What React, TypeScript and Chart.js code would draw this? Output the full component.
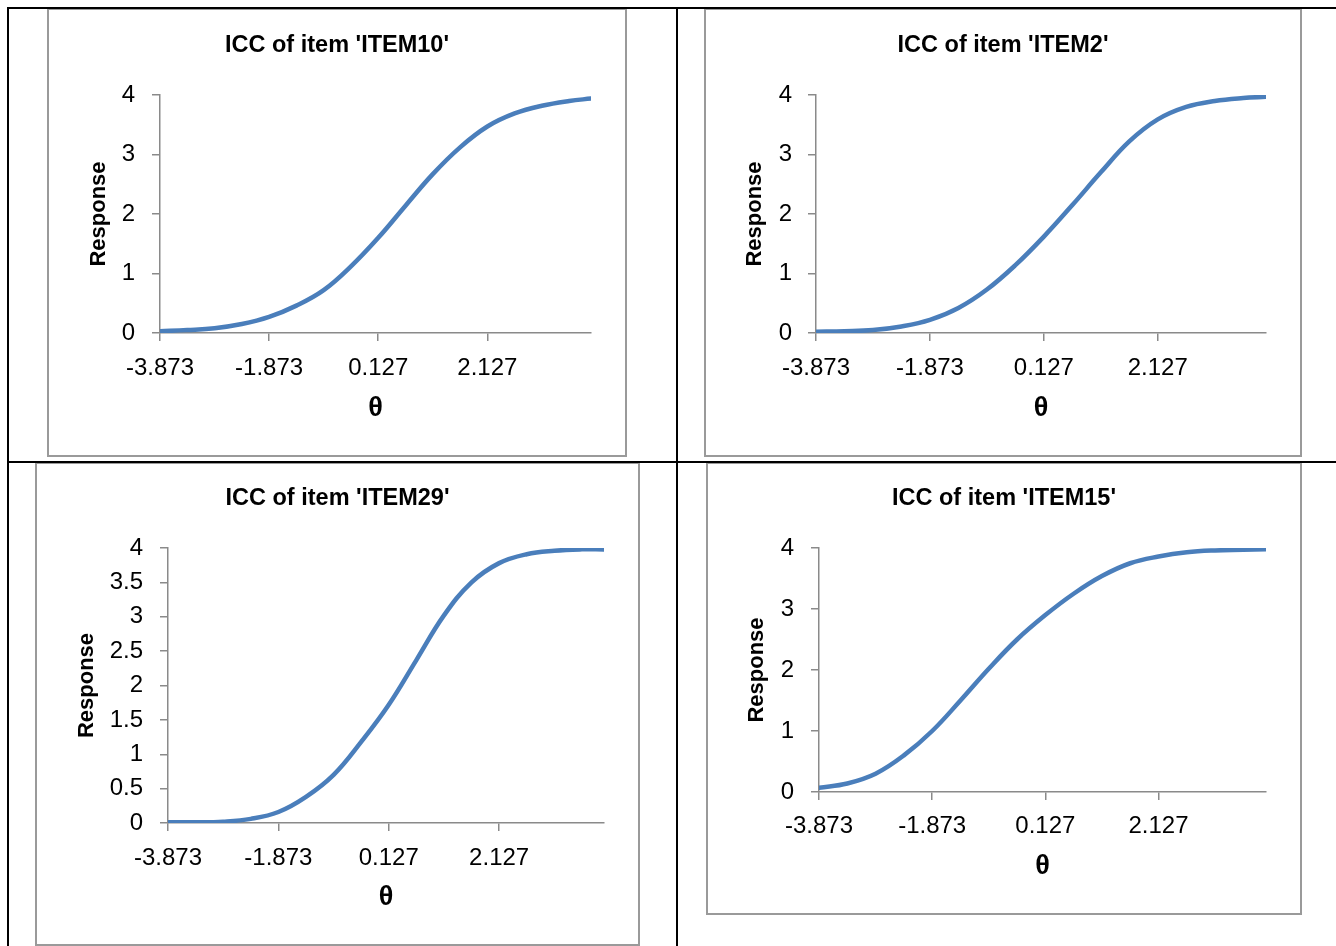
import React, { useEffect, useRef } from "react";
import { Chart, registerables } from "chart.js";

Chart.register(...registerables);

// ---------- data ----------
const thetaValues = [
  -3.873, -3.373, -2.873, -2.373, -1.873, -1.373, -0.873, -0.373, 0.127, 0.627,
  1.127, 1.627, 2.127, 2.627, 3.127, 3.627, 4.027,
];

const item10Values = [
  0.03, 0.05, 0.08, 0.15, 0.27, 0.46, 0.72, 1.12, 1.6, 2.14, 2.67, 3.12, 3.47, 3.69, 3.82, 3.9, 3.94,
];
const item2Values = [
  0.02, 0.03, 0.05, 0.11, 0.22, 0.42, 0.73, 1.14, 1.62, 2.15, 2.7, 3.22, 3.59, 3.8, 3.9, 3.95, 3.97,
];
const item29Values = [
  0.01, 0.01, 0.02, 0.06, 0.16, 0.38, 0.7, 1.18, 1.72, 2.37, 3.02, 3.5, 3.78, 3.91, 3.96, 3.98, 3.98,
];
const item15Values = [
  0.07, 0.14, 0.3, 0.6, 1.0, 1.5, 2.02, 2.5, 2.9, 3.25, 3.54, 3.75, 3.86, 3.93, 3.96, 3.97, 3.98,
];

const xTickValues = [-3.873, -1.873, 0.127, 2.127];
const yTicksWhole = [0, 1, 2, 3, 4];
const yTicksHalf = [0, 0.5, 1, 1.5, 2, 2.5, 3, 3.5, 4];

const chartTitles = [
  "ICC of item 'ITEM10'",
  "ICC of item 'ITEM2'",
  "ICC of item 'ITEM29'",
  "ICC of item 'ITEM15'",
];
const xAxisTitle = "θ";
const yAxisTitle = "Response";

// ---------- layout ----------
type Layout = {
  box: { x: number; y: number; w: number; h: number };
  plot: { l: number; r: number; t: number; b: number };
  titleY: number;
  xLabelY: number;
  xTitleY: number;
  yTitleX: number;
  yLabelRight: number;
};

const layouts: Layout[] = [
  {
    box: { x: 47, y: 8, w: 580, h: 449 },
    plot: { l: 160, r: 591, t: 95, b: 333 },
    titleY: 46, xLabelY: 368, xTitleY: 408.5, yTitleX: 98.5, yLabelRight: 135,
  },
  {
    box: { x: 704, y: 8, w: 598, h: 449 },
    plot: { l: 816, r: 1266, t: 95, b: 333 },
    titleY: 46, xLabelY: 368, xTitleY: 408.5, yTitleX: 755, yLabelRight: 792,
  },
  {
    box: { x: 35, y: 462, w: 605, h: 484 },
    plot: { l: 168, r: 604, t: 548, b: 823 },
    titleY: 499, xLabelY: 858, xTitleY: 898, yTitleX: 86.5, yLabelRight: 143,
  },
  {
    box: { x: 706, y: 462, w: 596, h: 453 },
    plot: { l: 819, r: 1266, t: 548, b: 792 },
    titleY: 499, xLabelY: 826.5, xTitleY: 866.5, yTitleX: 757, yLabelRight: 794,
  },
];

const panelSeries = [item10Values, item2Values, item29Values, item15Values];
const panelYTicks = [yTicksWhole, yTicksWhole, yTicksHalf, yTicksWhole];

const BORDER = 2;
const TICK_LEN = 8;
const TITLE_SIZE = 23.5;
const TICK_SIZE = 24;
const Y_TITLE_SIZE = 22;
const X_TITLE_SIZE = 27;
const LH = 1.2;
const FONT = "'Liberation Sans', Arial, sans-serif";
const AXIS_COLOR = "#8a8a8a";
const LINE_COLOR = "#4a7ebb";

function Panel({ idx }: { idx: number }) {
  const ref = useRef<HTMLCanvasElement | null>(null);
  const L = layouts[idx];
  const cx = L.box.x + BORDER;
  const cy = L.box.y + BORDER;
  const W = L.box.w - 2 * BORDER;
  const H = L.box.h - 2 * BORDER;

  useEffect(() => {
    if (!ref.current) return;
    const padR = cx + W - L.plot.r;
    const padL = padR;
    const padB = 4;
    const yScaleWidth = L.plot.l - cx - padL;
    const xScaleHeight = H - padB - (L.plot.b - cy);
    const titleLh = TITLE_SIZE * LH;
    const titlePadTop = L.titleY - cy - titleLh / 2;
    const titlePadBottom = L.plot.t - cy - titlePadTop - titleLh;
    const tickLh = TICK_SIZE * LH;
    const xTickPad = L.xLabelY - L.plot.b - TICK_LEN - tickLh / 2;
    const yTickPad = L.plot.l - TICK_LEN - L.yLabelRight;
    const xLh = X_TITLE_SIZE * LH;
    const yLh = Y_TITLE_SIZE * LH;
    const xTitlePadBottom = cy + H - padB - L.xTitleY - xLh / 2;
    const yTitlePadTop = L.yTitleX - cx - padL - yLh / 2;
    const yTicks = panelYTicks[idx];
    const values = panelSeries[idx];

    const chart = new Chart(ref.current, {
      type: "line",
      data: {
        datasets: [
          {
            data: thetaValues.map((t, i) => ({ x: t, y: values[i] })),
            borderColor: LINE_COLOR,
            borderWidth: 4.5,
            pointRadius: 0,
            fill: false,
            tension: 0.4,
            borderCapStyle: "round",
            borderJoinStyle: "round",
          },
        ],
      },
      options: {
        animation: false,
        responsive: true,
        maintainAspectRatio: false,
        layout: { padding: { left: padL, right: padR, top: 0, bottom: padB } },
        plugins: {
          legend: { display: false },
          tooltip: { enabled: false },
          title: {
            display: true,
            text: chartTitles[idx],
            color: "#000",
            font: { family: FONT, size: TITLE_SIZE, weight: "bold", lineHeight: LH },
            padding: { top: titlePadTop, bottom: titlePadBottom },
          },
        },
        scales: {
          x: {
            type: "linear",
            min: thetaValues[0],
            max: thetaValues[thetaValues.length - 1],
            afterBuildTicks: (s: any) => {
              s.ticks = xTickValues.map((v) => ({ value: v }));
            },
            afterFit: (s: any) => {
              s.height = xScaleHeight;
            },
            ticks: {
              autoSkip: false,
              maxRotation: 0,
              color: "#000",
              padding: xTickPad,
              font: { family: FONT, size: TICK_SIZE, lineHeight: LH },
              callback: (v: any) => String(v),
            },
            grid: {
              drawOnChartArea: false,
              drawTicks: true,
              tickLength: TICK_LEN,
              color: AXIS_COLOR,
              lineWidth: 1.5,
            },
            border: { display: true, color: AXIS_COLOR, width: 1.5 },
            title: {
              display: true,
              text: xAxisTitle,
              color: "#000",
              font: { family: FONT, size: X_TITLE_SIZE, weight: "bold", lineHeight: LH },
              padding: { top: 0, bottom: xTitlePadBottom },
            },
          },
          y: {
            type: "linear",
            min: 0,
            max: 4,
            afterBuildTicks: (s: any) => {
              s.ticks = yTicks.map((v) => ({ value: v }));
            },
            afterFit: (s: any) => {
              s.width = yScaleWidth;
            },
            ticks: {
              color: "#000",
              padding: yTickPad,
              font: { family: FONT, size: TICK_SIZE, lineHeight: LH },
              callback: (v: any) => String(v),
            },
            grid: {
              drawOnChartArea: false,
              drawTicks: true,
              tickLength: TICK_LEN,
              color: AXIS_COLOR,
              lineWidth: 1.5,
            },
            border: { display: true, color: AXIS_COLOR, width: 1.5 },
            title: {
              display: true,
              text: yAxisTitle,
              color: "#000",
              font: { family: FONT, size: Y_TITLE_SIZE, weight: "bold", lineHeight: LH },
              padding: { top: yTitlePadTop, bottom: 0 },
            },
          },
        },
      },
    } as any);
    return () => chart.destroy();
  }, [idx]);

  return (
    <div
      style={{
        position: "absolute",
        left: L.box.x,
        top: L.box.y,
        width: L.box.w,
        height: L.box.h,
        boxSizing: "border-box",
        border: `${BORDER}px solid #9a9a9a`,
        background: "#fff",
      }}
    >
      <div style={{ position: "relative", width: W, height: H }}>
        <canvas ref={ref} />
      </div>
    </div>
  );
}

const lineStyle = (left: number, top: number, width: number, height: number): React.CSSProperties => ({
  position: "absolute",
  left,
  top,
  width,
  height,
  background: "#000",
});

export default function App() {
  return (
    <div style={{ position: "absolute", left: 0, top: 0, width: 1336, height: 946, overflow: "hidden", background: "#fff" }}>
      <Panel idx={0} />
      <Panel idx={1} />
      <Panel idx={2} />
      <Panel idx={3} />
      <div style={lineStyle(7, 7, 1329, 2)} />
      <div style={lineStyle(7, 7, 2, 939)} />
      <div style={lineStyle(676, 7, 2, 939)} />
      <div style={lineStyle(7, 461, 1329, 2)} />
    </div>
  );
}
